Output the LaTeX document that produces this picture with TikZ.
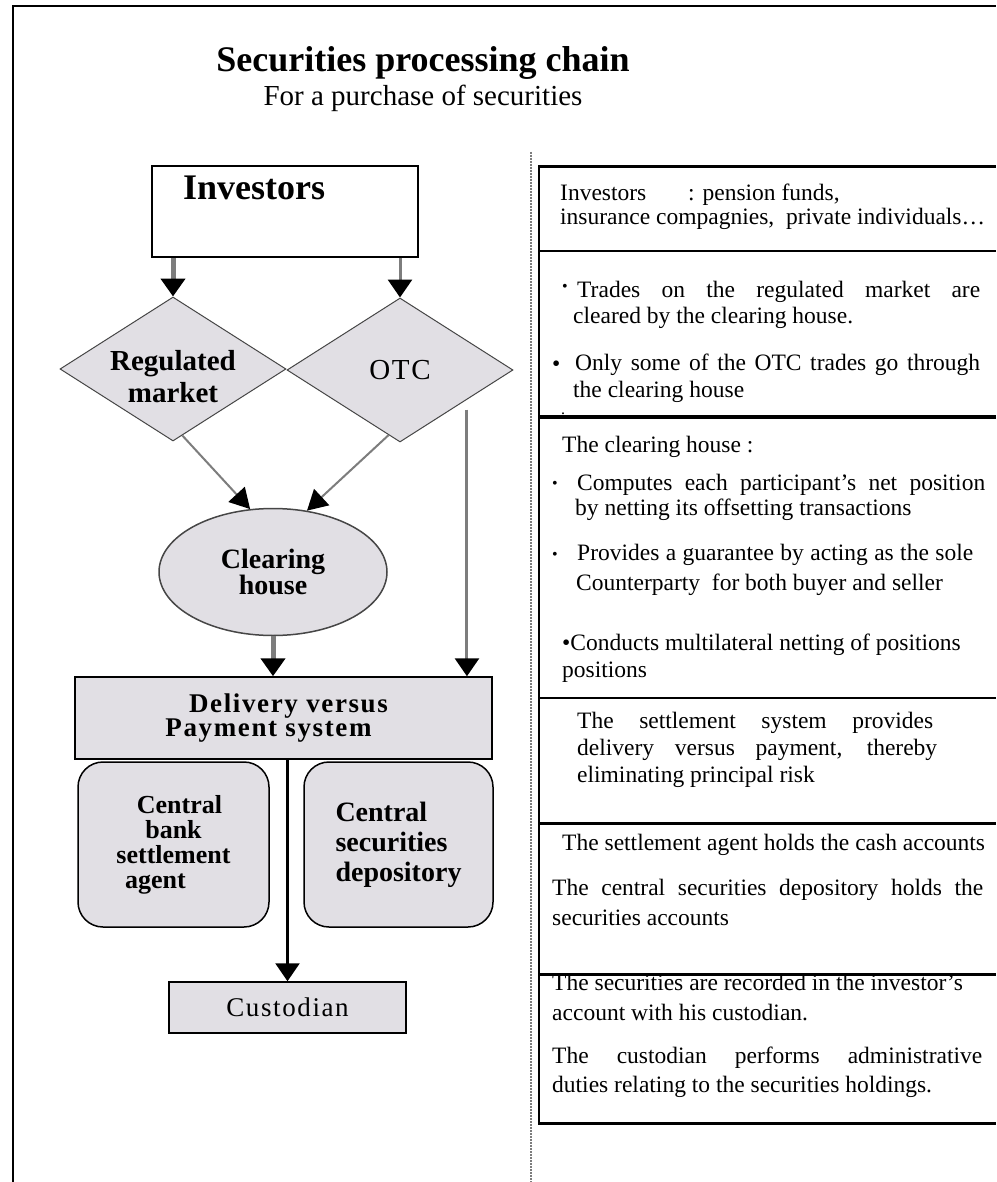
\documentclass[tikz,border=0pt]{standalone}
\usepackage{fontspec}
\setmainfont{Liberation Serif}
\newfontfamily\spacedfont[LetterSpace=6]{Liberation Serif}
\usetikzlibrary{shapes.geometric, arrows.meta, calc}

\definecolor{boxgray}{RGB}{225,223,228}
\definecolor{edgegray}{RGB}{70,70,70}
\definecolor{shaftgray}{RGB}{125,125,125}

\newcommand{\jline}[2]{\makebox[#1][s]{#2}}

\begin{document}
\begin{tikzpicture}[x = 1pt, y = -1pt,
	flow/.style = {draw = black, fill = boxgray, line width = 1.5pt, inner sep = 0pt},
	market/.style = {diamond, aspect = 1.55, fill = boxgray, draw = edgegray, line width = 1pt, minimum width = 226pt, minimum height = 144pt, inner sep = 0pt, align = center},
	big tip/.style = {-{Triangle[width = 24pt, length = 18pt, color = black]}},
	small tip/.style = {-{Triangle[width = 22pt, length = 20pt, color = black]}},
	note/.style = {anchor = base west, inner sep = 0pt, font = \fontsize{23.5}{28}\selectfont},
	dot/.style = {anchor = base west, inner sep = 0pt, font = \fontsize{16}{18}\selectfont}]

	\fill [white] (0, 0) rectangle (996, 1182);
	\useasboundingbox (0, 0) rectangle (996, 1182);

	% Frame

	\draw [line width = 2.5pt] (13, 1182) -- (13, 6) -- (996, 6);

	% Title

	\node (title) [anchor = base, font = \bfseries\fontsize{36}{40}\selectfont] at (423, 72) {Securities processing chain};
	\node (subtitle) [anchor = base, font = \fontsize{29}{32}\selectfont] at (423, 106) {For a purchase of securities};

	% Processing chain

	\node (inv) [draw, line width = 1.5pt, minimum width = 266pt, minimum height = 91pt] at (285, 211.5) {};
	\node (invlabel) [anchor = base west, inner sep = 0pt, font = \bfseries\fontsize{36}{40}\selectfont] at (183, 200) {Investors};

	\node (reg) [market, font = \bfseries\fontsize{29}{32}\selectfont] at (173, 369) {\raisebox{-17pt}[0pt][0pt]{\begin{tabular}{@{}c@{}}Regulated\\market\end{tabular}}};
	\node (otc) [market, font = \spacedfont\fontsize{29}{32}\selectfont] at (400, 370) {OTC};

	\node (ch) [ellipse, fill = boxgray, draw = edgegray, line width = 1.5pt, minimum width = 228pt, minimum height = 127pt, inner sep = 0pt, align = center, font = \bfseries\fontsize{28}{25}\selectfont] at (273, 572) {Clearing\\house};

	\node (dvp) [flow, minimum width = 417pt, minimum height = 82pt, align = center, font = \spacedfont\bfseries\fontsize{27}{21}\selectfont] at (283.5, 718) {Delivery versus\hspace*{-10pt}\\Payment system\hspace*{30pt}};

	\node (cbank) [flow, rounded corners = 25pt, minimum width = 191pt, minimum height = 165pt, align = center, font = \bfseries\fontsize{26}{25}\selectfont] at (173.5, 844.5) {Central\hspace*{-12pt}\\bank\hspace*{12pt}\\settlement\hspace*{18pt}\\agent\hspace*{36pt}};
	\node (csd) [flow, rounded corners = 25pt, minimum width = 189pt, minimum height = 165pt, align = left, font = \bfseries\fontsize{28}{30}\selectfont] at (398.5, 844.5) {Central\\securities\\depository};

	\node (cust) [flow, minimum width = 237pt, minimum height = 51pt, font = \spacedfont\fontsize{27}{30}\selectfont] at (287.5, 1007.5) {Custodian};

	% Connectors

	\draw [big tip, shaftgray, line width = 5pt] (reg.north |- inv.south) -- (reg.north);
	\draw [big tip, shaftgray, line width = 3pt] (otc.north |- inv.south) -- (otc.north);
	\draw [small tip, shaftgray, line width = 2pt] (reg.-82) -- (ch.110);
	\draw [small tip, shaftgray, line width = 2pt] (otc.-100) -- (ch.61);
	\draw [big tip, shaftgray, line width = 5pt] (ch.south) -- (ch.south |- dvp.north);
	\coordinate (otcout) at ($(otc.east)!0.41!(otc.south) + (0, 10)$);
	\draw [big tip, shaftgray, line width = 3pt] (otcout) -- (otcout |- dvp.north);
	\draw [big tip, line width = 2.5pt] (cust.north |- dvp.south) -- (cust.north);

	% Notes column

	\draw [shaftgray, line width = 1.5pt, dash pattern = on 2pt off 1pt] (531, 152) -- (531, 1182);
	\foreach \y/\w in {167/3, 251/2.5, 417/4, 698/2, 823/3, 974/3, 1123/3}
		\draw [line width = \w pt] (539, \y) -- (996, \y);
	\draw [line width = 2.5pt] (539, 165.5) -- (539, 1124.5);

	\node (n1a) [note] at (560, 201) {Investors};
	\node (n1b) [note] at (688, 201) {: pension funds,};
	\node (n2) [note] at (560, 225) {insurance compagnies,\ \ private individuals…};

	\node (b1) [dot] at (562, 291) {•};
	\node (n3) [note] at (577, 297) {\jline{403pt}{Trades on the regulated market are}};
	\node (n4) [note] at (573, 323) {cleared by the clearing house.};
	\node (b2) [note] at (552, 371) {•};
	\node (n5) [note] at (575, 370) {\jline{405pt}{Only some of the OTC trades go through}};
	\node (n6) [note] at (573, 397) {the clearing house};
	\node (d1) [dot] at (561, 414) {.};

	\node (n7) [note] at (562, 452) {The clearing house :};
	\node (b3) [dot] at (552, 488) {•};
	\node (n8) [note] at (577, 490) {\jline{408pt}{Computes each participant’s net position}};
	\node (n9) [note] at (575, 515) {by netting its offsetting transactions};
	\node (b4) [dot] at (552, 559) {•};
	\node (n10) [note] at (577, 560) {\jline{396pt}{Provides a guarantee by acting as the sole}};
	\node (n11) [note] at (576, 590) {Counterparty\ \ for both buyer and seller};
	\node (n12) [note] at (562, 650) {•Conducts multilateral netting of positions};
	\node (n13) [note] at (562, 677) {positions};

	\node (n14) [note] at (577, 728) {\jline{356pt}{The settlement system provides}};
	\node (n15) [note] at (577, 755) {\jline{360pt}{delivery versus payment, thereby}};
	\node (n16) [note] at (577, 782) {eliminating principal risk};

	\node (n17) [note] at (562, 850) {The settlement agent holds the cash accounts};
	\node (n18) [note] at (552, 895) {\jline{431pt}{The central securities depository holds the}};
	\node (n19) [note] at (552, 925) {securities accounts};

	\node (n20) [note] at (552, 990) {The securities are recorded in the investor’s};
	\node (n21) [note] at (552, 1020) {account with his custodian.};
	\node (n22) [note] at (552, 1063) {\jline{430pt}{The custodian performs administrative}};
	\node (n23) [note] at (552, 1092) {duties relating to the securities holdings.};

\end{tikzpicture}
\end{document}
